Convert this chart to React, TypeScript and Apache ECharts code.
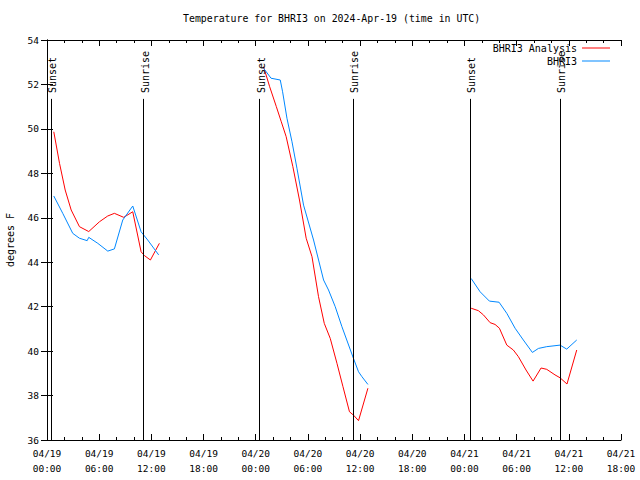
import React, { useEffect, useRef } from "react";
import * as echarts from "echarts";

// hours since 2024-04-19 00:00 UTC, temperature in degrees F
const analysisDay1: [number, number][] = [
  [0.78, 49.87], [1.44, 48.45], [2.09, 47.25], [2.78, 46.35], [3.73, 45.6], [4.8, 45.38],
  [6.03, 45.82], [6.98, 46.08], [7.75, 46.2], [8.82, 46.02], [9.86, 46.27], [10.82, 44.47],
  [11.2, 44.3], [11.89, 44.1], [12.92, 44.85],
];
const analysisDay2: [number, number][] = [
  [24.9, 52.8], [25.6, 51.9], [26.37, 51.0], [26.94, 50.32], [27.5, 49.65], [28.27, 48.3],
  [29.03, 46.8], [29.8, 45.08], [30.47, 44.25], [31.22, 42.45], [31.88, 41.25], [32.57, 40.57],
  [33.34, 39.45], [34.03, 38.4], [34.78, 37.27], [35.24, 37.12], [35.82, 36.87], [36.9, 38.33],
];
const analysisDay3: [number, number][] = [
  [48.77, 41.93], [49.6, 41.82], [50.18, 41.63], [50.95, 41.28], [51.52, 41.2], [52.02, 41.03],
  [52.87, 40.27], [53.62, 40.05], [54.2, 39.75], [55.08, 39.15], [55.89, 38.65], [56.81, 39.24],
  [57.46, 39.18], [58.41, 38.93], [58.99, 38.8], [59.79, 38.52], [60.91, 40.05],
];
const stationDay1: [number, number][] = [
  [0.78, 46.98], [1.81, 46.2], [2.96, 45.3], [3.73, 45.08], [4.62, 44.97], [4.8, 45.12],
  [5.84, 44.85], [6.99, 44.5], [7.75, 44.6], [8.71, 45.9], [9.86, 46.53], [10.82, 45.37],
  [11.58, 45.0], [12.84, 44.33],
];
const stationDay2: [number, number][] = [
  [24.9, 52.73], [25.76, 52.28], [26.82, 52.2], [27.09, 51.67], [27.59, 50.48], [28.17, 49.42],
  [28.74, 48.23], [29.5, 46.57], [30.65, 45.0], [31.8, 43.2], [32.37, 42.75], [33.14, 42.0],
  [33.91, 41.1], [35.24, 39.67], [35.82, 39.07], [36.21, 38.85], [36.9, 38.5],
];
const stationDay3: [number, number][] = [
  [48.77, 43.27], [49.8, 42.67], [50.87, 42.25], [51.98, 42.2], [52.87, 41.7], [53.82, 41.03],
  [54.77, 40.5], [55.81, 39.94], [56.5, 40.12], [57.46, 40.2], [58.99, 40.27], [59.76, 40.09],
  [60.91, 40.5],
];
const sunsetHours = [0.44, 24.44, 48.61];
const sunriseHours = [11.12, 35.17, 59.02];

const X_MIN = 0;
const X_MAX = 66;
const X_STEP = 6;
const Y_MIN = 36;
const Y_MAX = 54;
const Y_STEP = 2;
const MARKER_TOP = 51.35;

const TITLE = "Temperature for BHRI3 on 2024-Apr-19 (time in UTC)";
const ANALYSIS_NAME = "BHRI3 Analysis";
const STATION_NAME = "BHRI3";
const RED = "#ff0000";
const BLUE = "#0088ff";
const FONT = "'DejaVu Sans Mono', 'Liberation Mono', monospace";

const timeLabel = (v: number) => {
  const day = 19 + Math.floor(v / 24);
  const h = Math.round(v % 24);
  return `04/${day}\n${String(h).padStart(2, "0")}:00`;
};

export default function App() {
  const ref = useRef<HTMLDivElement>(null);
  useEffect(() => {
    if (!ref.current) return;
    const chart = echarts.init(ref.current, undefined, { renderer: "svg" });
    const lineSeries = (name: string, color: string, data: [number, number][], extra: any = {}) => ({
      type: "line",
      name,
      data,
      symbol: "none",
      showSymbol: false,
      lineStyle: { color, width: 1 },
      itemStyle: { color },
      xAxisIndex: 0,
      yAxisIndex: 0,
      z: 3,
      ...extra,
    });
    const events = [...sunsetHours, ...sunriseHours];
    const xCommon = {
      type: "value",
      min: X_MIN,
      max: X_MAX,
      interval: X_STEP,
      axisLine: { show: true, lineStyle: { color: "#000", width: 1 } },
      axisTick: { show: true, inside: true, length: 6, lineStyle: { color: "#000" } },
      minorTick: { show: true, splitNumber: 3, length: 3, lineStyle: { color: "#000" } },
      splitLine: { show: false },
      minorSplitLine: { show: false },
    };
    const yCommon = {
      type: "value",
      min: Y_MIN,
      max: Y_MAX,
      interval: Y_STEP,
      axisLine: { show: true, lineStyle: { color: "#000", width: 1 } },
      axisTick: { show: true, inside: true, length: 6, lineStyle: { color: "#000" } },
      splitLine: { show: false },
    };
    chart.setOption({
      animation: false,
      backgroundColor: "#fff",
      title: {
        text: TITLE,
        left: 178,
        top: 8,
        textStyle: { fontFamily: FONT, fontSize: 9.9, fontWeight: "normal", color: "#000" },
      },
      legend: [
        {
          data: [ANALYSIS_NAME],
          right: 30,
          top: 43,
          padding: 0,
          align: "right",
          icon: "rect",
          itemWidth: 28,
          itemHeight: 1,
          textStyle: { fontFamily: FONT, fontSize: 10, color: "#000" },
        },
        {
          data: [STATION_NAME],
          right: 30,
          top: 56,
          padding: 0,
          align: "right",
          icon: "rect",
          itemWidth: 28,
          itemHeight: 1,
          textStyle: { fontFamily: FONT, fontSize: 10, color: "#000" },
        },
      ],
      grid: { left: 47, right: 19, top: 40, bottom: 40, containLabel: false, outerBoundsMode: "none" },
      xAxis: [
        {
          ...xCommon,
          position: "bottom",
          axisLabel: {
            show: true,
            formatter: timeLabel,
            fontFamily: FONT,
            fontSize: 9.5,
            lineHeight: 15,
            margin: 6,
            color: "#000",
            showMinLabel: true,
            showMaxLabel: true,
            hideOverlap: false,
          },
        },
        { ...xCommon, position: "top", axisLabel: { show: false } },
      ],
      yAxis: [
        {
          ...yCommon,
          position: "left",
          name: "degrees F",
          nameLocation: "middle",
          nameGap: 32,
          nameTextStyle: { fontFamily: FONT, fontSize: 10, color: "#000" },
          axisLabel: { fontFamily: FONT, fontSize: 9.5, color: "#000", margin: 8 },
        },
        { ...yCommon, position: "right", axisLabel: { show: false } },
      ],
      series: [
        lineSeries(ANALYSIS_NAME, RED, analysisDay1, {
          markLine: {
            silent: true,
            symbol: ["none", "none"],
            label: { show: false },
            lineStyle: { color: "#000", width: 1, type: "solid" },
            data: events.map((t) => [{ coord: [t, Y_MIN] }, { coord: [t, MARKER_TOP] }]),
          },
        }),
        lineSeries(ANALYSIS_NAME, RED, analysisDay2),
        lineSeries(ANALYSIS_NAME, RED, analysisDay3),
        lineSeries(STATION_NAME, BLUE, stationDay1),
        lineSeries(STATION_NAME, BLUE, stationDay2),
        lineSeries(STATION_NAME, BLUE, stationDay3),
      ],
    });
    const labels = [
      ...sunsetHours.map((t) => ({ t, text: "Sunset" })),
      ...sunriseHours.map((t) => ({ t, text: "Sunrise" })),
    ];
    const graphic = labels.map(({ t, text }) => {
      const p = chart.convertToPixel({ xAxisIndex: 0, yAxisIndex: 0 }, [t, MARKER_TOP]) as number[];
      return {
        type: "text",
        x: Math.round(p[0]) + 1,
        y: Math.round(p[1]) - 6,
        rotation: Math.PI / 2,
        style: {
          text,
          fill: "#000",
          font: `10px ${FONT}`,
          align: "left",
          verticalAlign: "middle",
        },
        z: 10,
      };
    });
    chart.setOption({ graphic });
    return () => chart.dispose();
  }, []);
  return (
    <div
      ref={ref}
      style={{ position: "fixed", left: 0, top: 0, width: 640, height: 480, background: "#fff" }}
    />
  );
}
